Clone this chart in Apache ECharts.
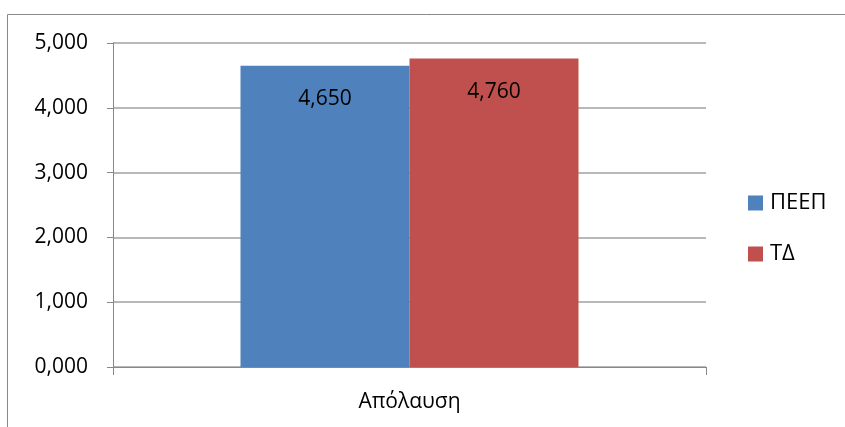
<!DOCTYPE html>
<html><head><meta charset="utf-8">
<script src="https://cdn.jsdelivr.net/npm/echarts@6/dist/echarts.min.js"></script>
<style>html,body{margin:0;padding:0;background:#fff}#c{width:845px;height:427px}</style>
</head><body><div id="c"></div>
<script>
const categories = ['Απόλαυση'];
const seriesNames = ['ΠΕΕΠ', 'ΤΔ'];
const valuesPEEP = [4.650];
const valuesTD = [4.760];
const colors = ['#4F81BD', '#C0504D'];
const fmt = v => Number(v).toFixed(3).replace('.', ',');
const FONT = 'Open Sans';
const chart = echarts.init(document.getElementById('c'));
const mkSeries = (name, data, color) => ({
  name, type: 'bar', data, barGap: '0%', barCategoryGap: '43%',
  itemStyle: { color },
  label: { show: true, position: 'insideTop', distance: 23, formatter: p => fmt(p.value),
    color: '#000', fontSize: 21, fontFamily: FONT }
});
chart.setOption({
  animation: false,
  textStyle: { fontFamily: FONT },
  graphic: [{ type: 'rect', shape: { x: 7.5, y: 14.5, width: 900, height: 500 },
    style: { fill: 'none', stroke: '#888', lineWidth: 1 } }],
  grid: { left: 113, right: 139, top: 43, bottom: 60 },
  legend: {
    orient: 'vertical', left: 743, top: 187, itemGap: 29, itemWidth: 15, itemHeight: 15,
    icon: 'rect', data: seriesNames,
    textStyle: { fontSize: 22, color: '#000', fontFamily: FONT, padding: [0, 0, 0, 2] }
  },
  xAxis: {
    type: 'category', data: categories,
    axisLine: { lineStyle: { color: '#888', width: 1 } },
    axisTick: { show: true, length: 8, lineStyle: { color: '#888' } },
    axisLabel: { fontSize: 21, color: '#000', margin: 25, fontFamily: FONT }
  },
  yAxis: {
    type: 'value', min: 0, max: 5, interval: 1,
    axisLine: { show: true, lineStyle: { color: '#888' } },
    axisTick: { show: true, length: 6, lineStyle: { color: '#888' } },
    axisLabel: { fontSize: 21, color: '#000', margin: 25, formatter: fmt, fontFamily: FONT },
    splitLine: { lineStyle: { color: '#a0a0a0', width: 1.5 } }
  },
  series: [mkSeries(seriesNames[0], valuesPEEP, colors[0]), mkSeries(seriesNames[1], valuesTD, colors[1])]
});
</script></body></html>
